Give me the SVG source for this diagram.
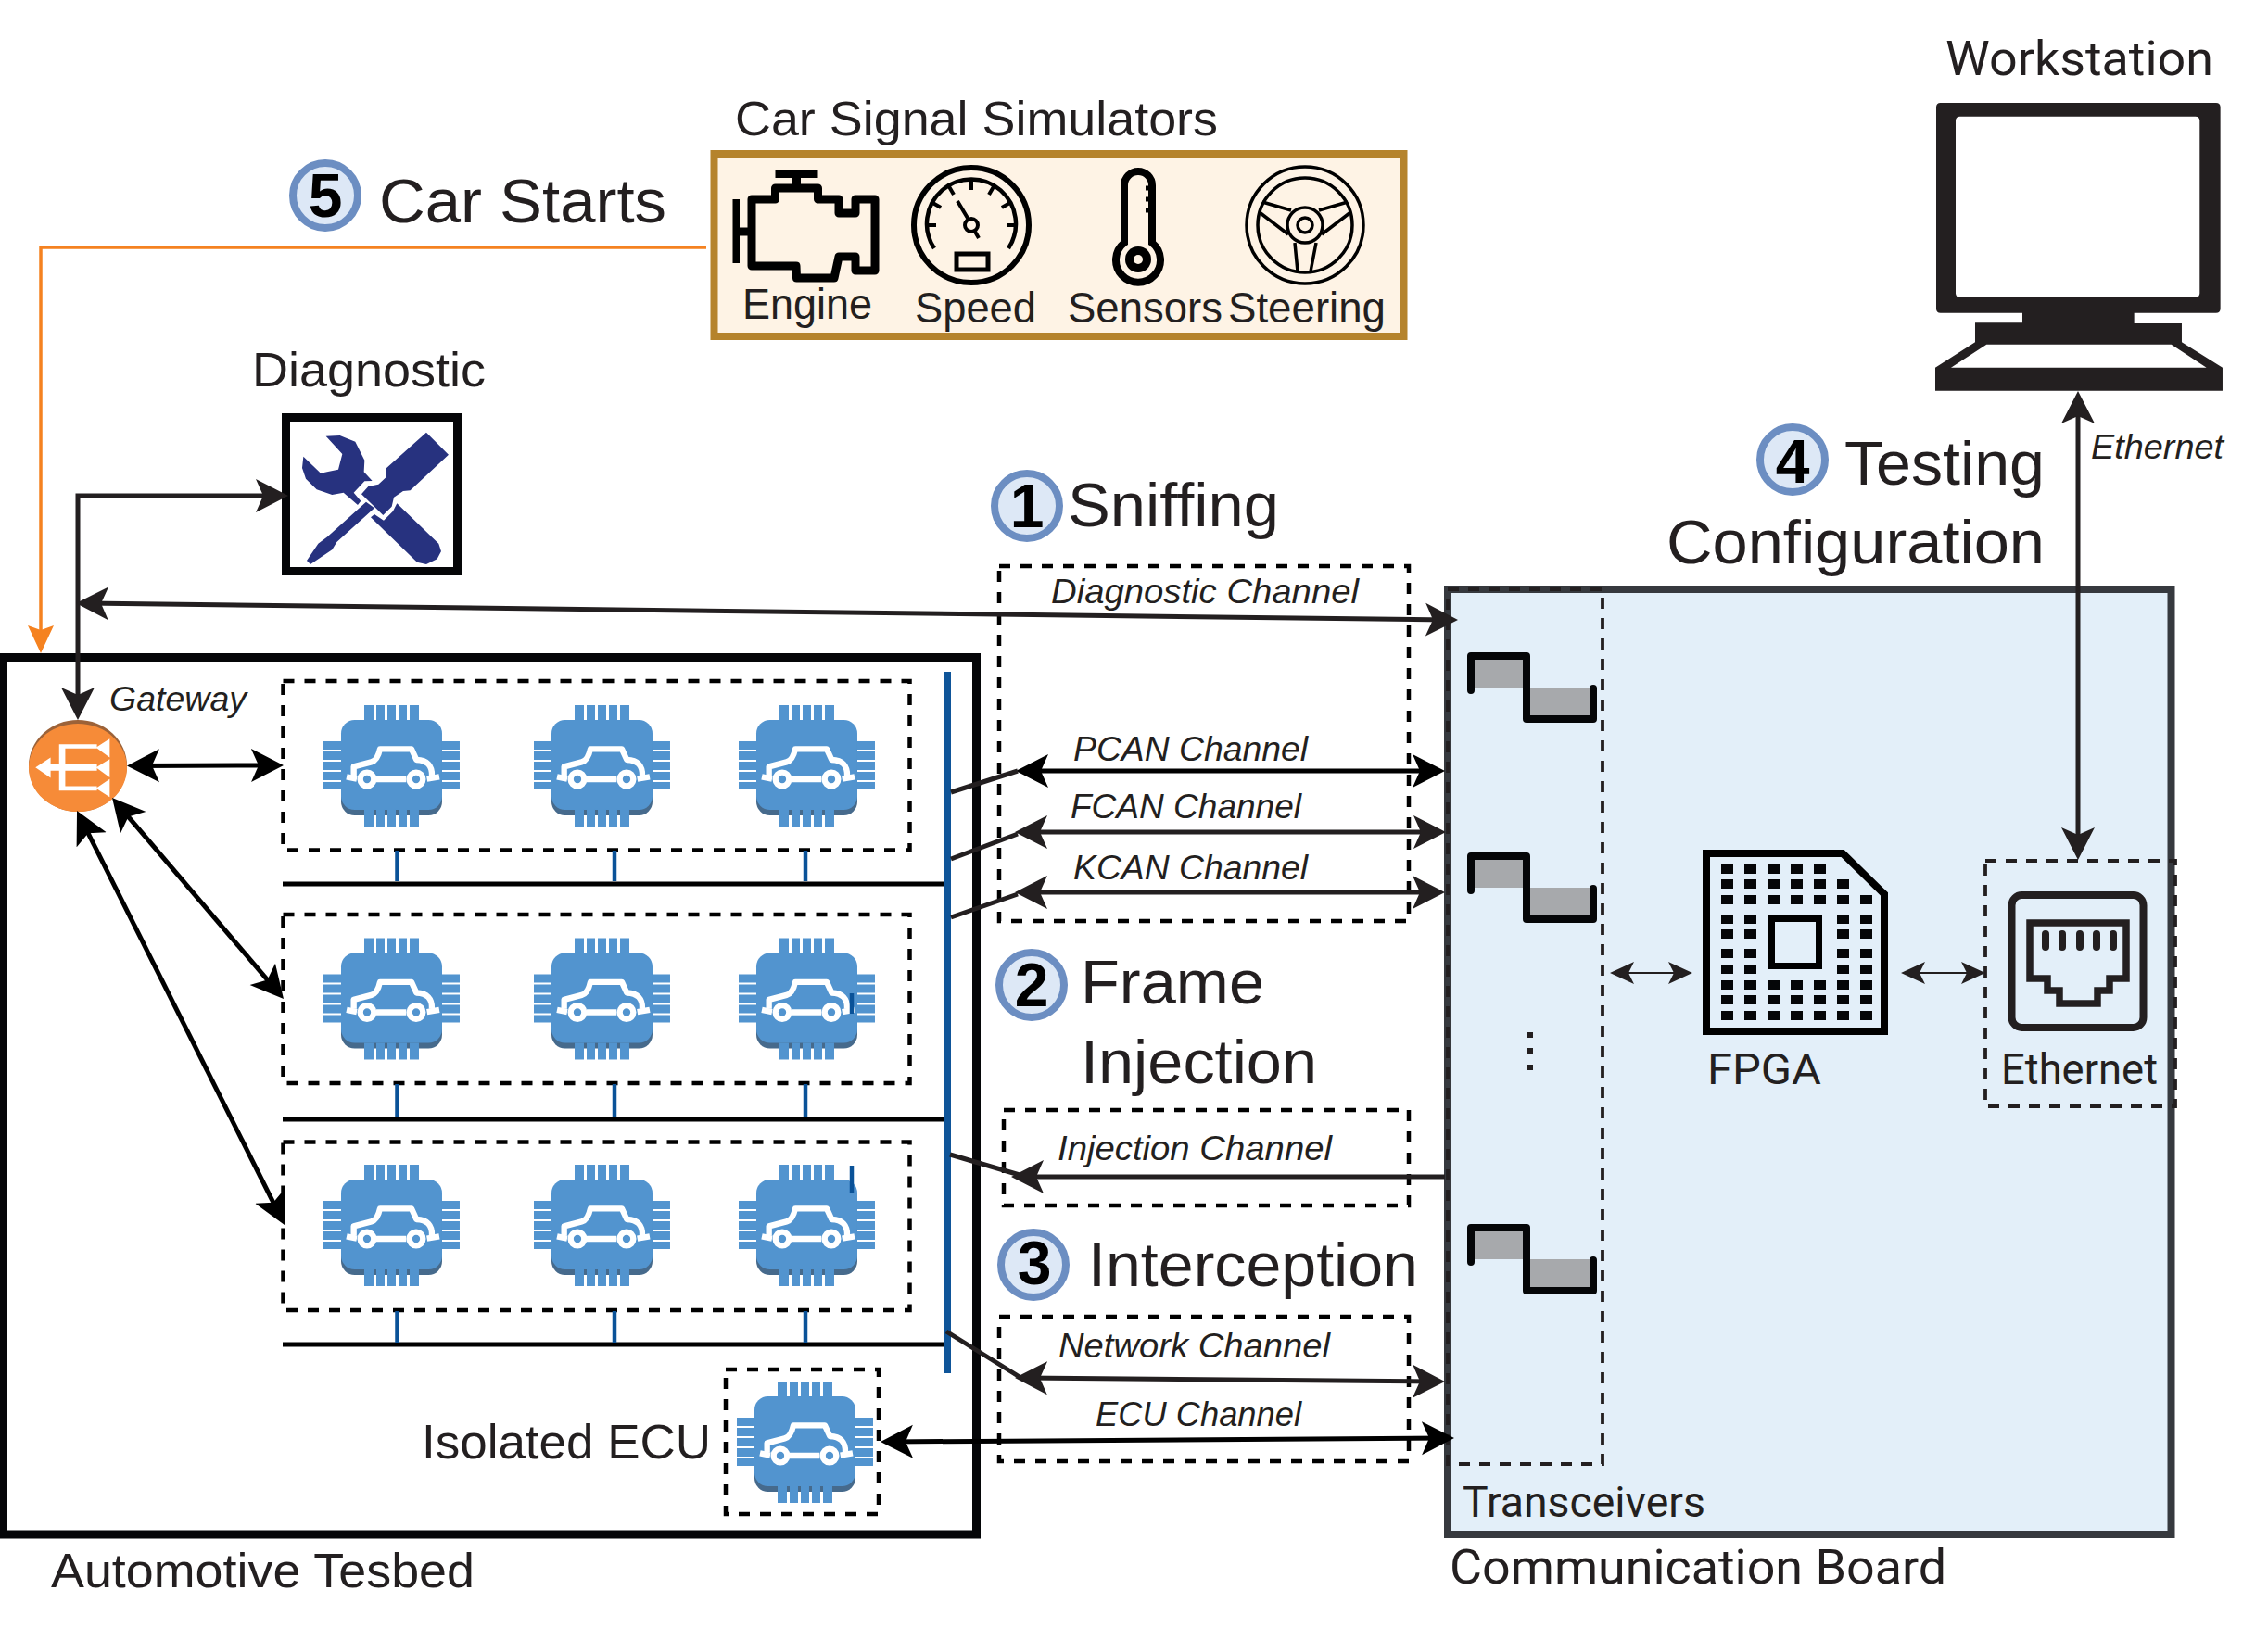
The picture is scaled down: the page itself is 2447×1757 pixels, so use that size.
<svg xmlns="http://www.w3.org/2000/svg" width="2447" height="1757" viewBox="0 0 2447 1757">
<style>
text{font-family:"Liberation Sans",Arial,sans-serif;fill:#231f20}
.r{font-family:Roboto,"Liberation Sans",sans-serif}
.h{font-size:67px}.m{font-size:52px}.s{font-size:46px}
.i{font-size:37px;font-style:italic}
.d{font-size:66px;font-weight:bold;fill:#000;text-anchor:middle}
.dash{fill:none;stroke:#000;stroke-width:4.5;stroke-dasharray:12 11}
.thin{fill:none;stroke:#231f20;stroke-width:3.8;stroke-dasharray:12 10}
.badge{fill:#DDE8F6;stroke:#6C8EC2;stroke-width:8}
.bus{stroke:#000;stroke-width:5}
.stub{stroke:#0A5298;stroke-width:4.5}
.wave{fill:none;stroke:#050608;stroke-width:8;stroke-linejoin:round;stroke-linecap:round}
.ico{fill:none;stroke:#000}
.c{fill:none;stroke:#231f20;stroke-width:5}
.ck{fill:none;stroke:#000;stroke-width:5}
</style>
<defs>
<marker id="ah" markerUnits="userSpaceOnUse" markerWidth="36" markerHeight="38" viewBox="0 0 36 38" refX="25" refY="19" orient="auto-start-reverse"><path d="M35 19L0 1L8 19L0 37Z" fill="#231f20"/></marker>
<marker id="ak" markerUnits="userSpaceOnUse" markerWidth="36" markerHeight="38" viewBox="0 0 36 38" refX="25" refY="19" orient="auto-start-reverse"><path d="M35 19L0 1L8 19L0 37Z" fill="#000"/></marker>
<marker id="at" markerUnits="userSpaceOnUse" markerWidth="27" markerHeight="26" viewBox="0 0 27 26" refX="20" refY="13" orient="auto-start-reverse"><path d="M26 13L0 1L6 13L0 25Z" fill="#231f20"/></marker>
<marker id="ao" markerUnits="userSpaceOnUse" markerWidth="30" markerHeight="30" viewBox="0 0 30 30" refX="22" refY="15" orient="auto"><path d="M30 15L0 1L5 15L0 29Z" fill="#F58220"/></marker>
<g id="chip" transform="scale(.3333) translate(-57 -33)">
<rect x="114" y="110" width="327" height="280" rx="44" fill="#466A8C"/>
<rect x="114" y="81" width="327" height="291" rx="44" fill="#5294CF"/>
<g fill="#5294CF">
<rect x="189" y="33" width="30" height="48"/><rect x="228" y="33" width="27" height="48"/><rect x="264" y="33" width="27" height="48"/><rect x="300" y="33" width="27" height="48"/><rect x="336" y="33" width="30" height="48"/>
<rect x="189" y="372" width="30" height="54"/><rect x="228" y="372" width="27" height="54"/><rect x="264" y="372" width="27" height="54"/><rect x="300" y="372" width="27" height="54"/><rect x="336" y="372" width="30" height="54"/>
<rect x="57" y="150" width="57" height="27"/><rect x="57" y="183" width="57" height="27"/><rect x="57" y="216" width="57" height="27"/><rect x="57" y="249" width="57" height="27"/><rect x="57" y="282" width="57" height="24"/>
<rect x="441" y="150" width="57" height="27"/><rect x="441" y="183" width="57" height="27"/><rect x="441" y="216" width="57" height="27"/><rect x="441" y="249" width="57" height="27"/><rect x="441" y="282" width="57" height="24"/>
</g>
<g fill="none" stroke="#fff" stroke-width="19" stroke-linejoin="round">
<path d="M155 262V232L212 217Q232 212 240 175H342L358 210Q410 212 408 262"/>
<path d="M132 265L165 272M228 273H325M392 272L432 265"/>
<circle cx="198" cy="273" r="22"/><circle cx="357" cy="273" r="22"/>
</g>
</g>
</defs>

<g id="car-signal-simulators">
<text class="m" x="793" y="146" textLength="521" lengthAdjust="spacingAndGlyphs">Car Signal Simulators</text>
<rect x="770.5" y="166" width="744" height="197" fill="#FEF3E5" stroke="#B5832C" stroke-width="8"/>
<g id="engine">
<path class="ico" stroke-width="9" stroke-linejoin="round" d="M811 215H836.5V203H882.5V215H905V230H923V215H944V292H923V277H905L900 300H859.5L859 287H811Z"/>
<path class="ico" stroke-width="9" d="M859.5 192V203M811 250H797"/>
<rect x="836.5" y="184" width="46" height="8" fill="#000"/>
<rect x="790.5" y="215" width="7.5" height="69" fill="#000"/>
<text class="s" x="801" y="344" textLength="140" lengthAdjust="spacingAndGlyphs">Engine</text>
</g>
<g id="speed">
<circle class="ico" cx="1048" cy="243" r="62" stroke-width="6"/>
<path class="ico" stroke-width="4.5" d="M1008 268A48 48 0 1 1 1088 268"/>
<g class="ico" stroke-width="4">
<line x1="1048" y1="195" x2="1048" y2="205" transform="rotate(-90 1048 243)"/>
<line x1="1048" y1="195" x2="1048" y2="205" transform="rotate(-60 1048 243)"/>
<line x1="1048" y1="195" x2="1048" y2="205" transform="rotate(-30 1048 243)"/>
<line x1="1048" y1="195" x2="1048" y2="205"/>
<line x1="1048" y1="195" x2="1048" y2="205" transform="rotate(30 1048 243)"/>
<line x1="1048" y1="195" x2="1048" y2="205" transform="rotate(60 1048 243)"/>
<line x1="1048" y1="195" x2="1048" y2="205" transform="rotate(90 1048 243)"/>
<path d="M1033 217L1045 237M1052 250L1056 257"/>
<circle cx="1048" cy="243" r="7"/>
</g>
<rect class="ico" x="1032" y="274" width="34" height="17" stroke-width="5"/>
<text class="s" x="987" y="348" textLength="131" lengthAdjust="spacingAndGlyphs">Speed</text>
</g>
<g id="sensors">
<path class="ico" stroke-width="8" d="M1213 262V200A15 15 0 0 1 1243 200V262A24 24 0 1 1 1213 262Z"/>
<path class="ico" stroke-width="5" d="M1236 203H1243M1236 215H1243M1236 227H1243"/>
<circle cx="1228" cy="280" r="14" fill="#000"/><circle cx="1228" cy="280" r="5" fill="#FEF3E5"/>
<text class="s" x="1152" y="348" textLength="167" lengthAdjust="spacingAndGlyphs">Sensors</text>
</g>
<g id="steering">
<g class="ico" stroke-width="3.5">
<circle cx="1408" cy="243" r="63"/><circle cx="1408" cy="243" r="51"/><circle cx="1408" cy="243" r="19"/><circle cx="1408" cy="243" r="8"/>
<path d="M1362 218L1393 227M1360 230L1390 253M1454 218L1423 227M1456 230L1426 253M1397 262L1400 293M1420 262L1414 293"/>
</g>
<text class="s" x="1325" y="348" textLength="170" lengthAdjust="spacingAndGlyphs">Steering</text>
</g>
</g>

<g id="step5">
<circle class="badge" cx="351" cy="211" r="35"/><text class="d" x="351" y="234">5</text>
<text class="h" x="409" y="240" textLength="310" lengthAdjust="spacingAndGlyphs">Car Starts</text>
</g>

<g id="diagnostic">
<text class="m" x="272" y="417" textLength="252" lengthAdjust="spacingAndGlyphs">Diagnostic</text>
<rect x="308.5" y="450.5" width="185" height="166" fill="#fff" stroke="#050608" stroke-width="9"/>
<g transform="translate(280 430) scale(.3333)" fill="#27327F">
<path d="M540 110L612 182L488 298L465 300L435 320L428 350L400 378L330 310L352 285L385 278L410 255L408 228Z"/>
<path d="M345 335L372 355L250 465L235 490L165 537L153 525L190 470L220 448Z"/>
<path d="M215 122L260 120L310 140L340 200L338 238L365 267L340 268L305 305L328 332L318 345L272 305L235 312L185 295L150 260L138 225L142 188L198 242L255 230L268 180Z"/>
<path d="M360 385L372 375L402 395L432 365L445 340L580 470L588 495L575 520L540 537L510 530Z"/>
</g>
</g>

<g id="workstation">
<text class="m r" x="2099" y="81" textLength="289" lengthAdjust="spacingAndGlyphs">Workstation</text>
<g transform="translate(2060 90) scale(.3333)" fill="#231f20">
<path fill-rule="evenodd" d="M101 63H993Q1007 63 1007 77V729Q1007 743 993 743H728V777H882V838L1014 920V995H84V920L213 838V775H366V743H101Q87 743 87 729V77Q87 63 101 63ZM164 107Q150 107 150 121V679Q150 693 164 693H926Q940 693 940 679V121Q940 107 926 107ZM250 845L135 920H962L848 845Z"/>
</g>
</g>

<g id="automotive-testbed">
<rect x="3.5" y="709.5" width="1050" height="946.5" fill="#fff" stroke="#050608" stroke-width="9"/>
<text class="m" x="55" y="1713" textLength="457" lengthAdjust="spacingAndGlyphs">Automotive Tesbed</text>
</g>

<g id="gateway">
<ellipse cx="84" cy="826.5" rx="53" ry="49.5" fill="#9C6238"/>
<ellipse cx="84" cy="828.5" rx="53" ry="47.5" fill="#F68B38"/>
<g transform="translate(0 680) scale(.5102 .3571)" fill="#fff">
<path d="M125 345H205V358H138V405H205V425H138V472H205V485H125V425H105V405H125Z"/>
<path d="M232 328V385L203 355ZM232 390V445L203 415ZM232 450V505L203 478ZM107 385V447L75 415Z"/>
</g>
<text class="i" x="118" y="767" textLength="148" lengthAdjust="spacingAndGlyphs">Gateway</text>
</g>

<g id="ecu-group-1">
<rect class="dash" x="305.5" y="735" width="676" height="182.5"/>
<use href="#chip" x="349" y="761"/><use href="#chip" x="576" y="761"/><use href="#chip" x="797" y="761"/>
</g>
<g id="ecu-group-2">
<rect class="dash" x="305.5" y="987" width="676" height="182"/>
<use href="#chip" x="349" y="1012.5"/><use href="#chip" x="576" y="1012.5"/><use href="#chip" x="797" y="1012.5"/>
<line class="stub" x1="919" y1="1072" x2="919" y2="1094"/>
</g>
<g id="ecu-group-3">
<rect class="dash" x="305.5" y="1232.5" width="676" height="181.5"/>
<use href="#chip" x="349" y="1257"/><use href="#chip" x="576" y="1257"/><use href="#chip" x="797" y="1257"/>
<line class="stub" x1="919" y1="1258" x2="919" y2="1288"/>
</g>
<g id="isolated-ecu">
<text class="m" x="455" y="1574" textLength="312" lengthAdjust="spacingAndGlyphs">Isolated ECU</text>
<rect class="dash" x="783" y="1478" width="165" height="156"/>
<use href="#chip" x="795" y="1491"/>
</g>

<g id="can-bus">
<line class="bus" x1="305" y1="954" x2="1020" y2="954"/>
<line class="bus" x1="305" y1="1208" x2="1020" y2="1208"/>
<line class="bus" x1="305" y1="1451" x2="1020" y2="1451"/>
<path class="stub" d="M428.5 918V951M663 918V951M869 918V951M428.5 1170V1206M663 1170V1206M869 1170V1206M428.5 1415V1449M663 1415V1449M869 1415V1449"/>
<line x1="1022" y1="725" x2="1022" y2="1482" stroke="#0F5599" stroke-width="8"/>
</g>

<g id="communication-board">
<rect x="1562" y="636" width="780.5" height="1020" fill="#E3EFF9" stroke="#36393E" stroke-width="8"/>
<text class="m r" x="1564" y="1709" textLength="536" lengthAdjust="spacingAndGlyphs">Communication Board</text>
</g>
<g id="transceivers">
<rect class="thin" x="1562" y="636" width="167" height="944"/>
<text class="s r" x="1578" y="1637" textLength="262" lengthAdjust="spacingAndGlyphs">Transceivers</text>
<g id="wave-1"><path fill="#A7A9AC" d="M1587 712H1647V742H1719V773H1647V742H1587Z"/><path class="wave" d="M1587 745V708H1647V776H1719V743"/></g>
<g id="wave-2"><path fill="#A7A9AC" d="M1587 928H1647V958H1719V989H1647V958H1587Z"/><path class="wave" d="M1587 961V924H1647V992H1719V959"/></g>
<g id="wave-3"><path fill="#A7A9AC" d="M1587 1329H1647V1359H1719V1390H1647V1359H1587Z"/><path class="wave" d="M1587 1362V1325H1647V1393H1719V1360"/></g>
<g fill="#231f20"><rect x="1648" y="1114" width="6" height="6"/><rect x="1648" y="1131" width="6" height="6"/><rect x="1648" y="1149" width="6" height="6"/></g>
</g>
<g id="fpga">
<path class="ico" stroke="#050608" stroke-width="8" d="M1841 921H1988L2033 965V1113H1841Z"/>
<g fill="#050608">
<g id="fpga-top"><rect x="1857" y="933" width="13" height="10"/><rect x="1882" y="933" width="13" height="10"/><rect x="1907" y="933" width="13" height="10"/><rect x="1932" y="933" width="13" height="10"/><rect x="1957" y="933" width="13" height="10"/>
<rect x="1857" y="949" width="13" height="10"/><rect x="1882" y="949" width="13" height="10"/><rect x="1907" y="949" width="13" height="10"/><rect x="1932" y="949" width="13" height="10"/><rect x="1957" y="949" width="13" height="10"/><rect x="1982" y="949" width="13" height="10"/>
<rect x="1857" y="966" width="13" height="10"/><rect x="1882" y="966" width="13" height="10"/><rect x="1907" y="966" width="13" height="10"/><rect x="1932" y="966" width="13" height="10"/><rect x="1957" y="966" width="13" height="10"/><rect x="1982" y="966" width="13" height="10"/><rect x="2007" y="966" width="13" height="10"/></g>
<rect x="1857" y="987" width="13" height="10"/><rect x="1882" y="987" width="13" height="10"/><rect x="1982" y="987" width="13" height="10"/><rect x="2007" y="987" width="13" height="10"/>
<rect x="1857" y="1003" width="13" height="10"/><rect x="1882" y="1003" width="13" height="10"/><rect x="1982" y="1003" width="13" height="10"/><rect x="2007" y="1003" width="13" height="10"/>
<rect x="1857" y="1024" width="13" height="10"/><rect x="1882" y="1024" width="13" height="10"/><rect x="1982" y="1024" width="13" height="10"/><rect x="2007" y="1024" width="13" height="10"/>
<rect x="1857" y="1041" width="13" height="10"/><rect x="1882" y="1041" width="13" height="10"/><rect x="1982" y="1041" width="13" height="10"/><rect x="2007" y="1041" width="13" height="10"/>
<rect x="1857" y="1058" width="13" height="10"/><rect x="1882" y="1058" width="13" height="10"/><rect x="1907" y="1058" width="13" height="10"/><rect x="1932" y="1058" width="13" height="10"/><rect x="1957" y="1058" width="13" height="10"/><rect x="1982" y="1058" width="13" height="10"/><rect x="2007" y="1058" width="13" height="10"/>
<rect x="1857" y="1074" width="13" height="10"/><rect x="1882" y="1074" width="13" height="10"/><rect x="1907" y="1074" width="13" height="10"/><rect x="1932" y="1074" width="13" height="10"/><rect x="1957" y="1074" width="13" height="10"/><rect x="1982" y="1074" width="13" height="10"/><rect x="2007" y="1074" width="13" height="10"/>
<rect x="1857" y="1091" width="13" height="10"/><rect x="1882" y="1091" width="13" height="10"/><rect x="1907" y="1091" width="13" height="10"/><rect x="1932" y="1091" width="13" height="10"/><rect x="1957" y="1091" width="13" height="10"/><rect x="1982" y="1091" width="13" height="10"/><rect x="2007" y="1091" width="13" height="10"/>
</g>
<rect class="ico" stroke="#050608" x="1911.5" y="991.5" width="51" height="51" stroke-width="7"/>
<text class="s r" x="1842" y="1170" textLength="123" lengthAdjust="spacingAndGlyphs">FPGA</text>
</g>
<g id="ethernet-port">
<rect class="thin" x="2142" y="929" width="205" height="265"/>
<rect x="2170.5" y="966" width="142" height="143" rx="11" fill="none" stroke="#231f20" stroke-width="8"/>
<path fill="none" stroke="#231f20" stroke-width="7.5" d="M2190 996H2294V1056H2276V1069H2263V1083H2222V1069H2209V1056H2190Z"/>
<g stroke="#231f20" stroke-width="8" stroke-linecap="round"><path d="M2207 1008V1022M2225 1008V1022M2244 1008V1022M2262 1008V1022M2280 1008V1022"/></g>
<text class="s r" x="2159" y="1170" textLength="169" lengthAdjust="spacingAndGlyphs">Ethernet</text>
</g>

<g id="step1">
<circle class="badge" cx="1108" cy="546" r="35"/><text class="d" x="1108" y="569">1</text>
<text class="h" x="1152" y="568" textLength="228" lengthAdjust="spacingAndGlyphs">Sniffing</text>
<rect class="dash" x="1078" y="611" width="442" height="383"/>
<text class="i" x="1134" y="651" textLength="332" lengthAdjust="spacingAndGlyphs">Diagnostic Channel</text>
<text class="i" x="1158" y="821" textLength="253" lengthAdjust="spacingAndGlyphs">PCAN Channel</text>
<text class="i" x="1155" y="883" textLength="249" lengthAdjust="spacingAndGlyphs">FCAN Channel</text>
<text class="i" x="1158" y="949" textLength="253" lengthAdjust="spacingAndGlyphs">KCAN Channel</text>
</g>
<g id="step2">
<circle class="badge" cx="1113" cy="1063" r="35"/><text class="d" x="1113" y="1086">2</text>
<text class="h" x="1166" y="1083" textLength="198" lengthAdjust="spacingAndGlyphs">Frame</text>
<text class="h" x="1166" y="1169" textLength="255" lengthAdjust="spacingAndGlyphs">Injection</text>
<rect class="dash" x="1083" y="1198" width="437" height="103"/>
<text class="i" x="1141" y="1252" textLength="296" lengthAdjust="spacingAndGlyphs">Injection Channel</text>
</g>
<g id="step3">
<circle class="badge" cx="1115" cy="1365" r="35"/><text class="d" x="1116" y="1386">3</text>
<text class="h" x="1174" y="1388" textLength="356" lengthAdjust="spacingAndGlyphs">Interception</text>
<rect class="dash" x="1078" y="1421" width="442" height="156"/>
<text class="i" x="1142" y="1465" textLength="293" lengthAdjust="spacingAndGlyphs">Network Channel</text>
<text class="i" x="1182" y="1539" textLength="222" lengthAdjust="spacingAndGlyphs">ECU Channel</text>
</g>
<g id="step4">
<circle class="badge" cx="1934" cy="496" r="35"/><text class="d" x="1934" y="521">4</text>
<text class="h" x="1990" y="523" textLength="216" lengthAdjust="spacingAndGlyphs">Testing</text>
<text class="h" x="1798" y="608" textLength="408" lengthAdjust="spacingAndGlyphs">Configuration</text>
<text class="i" x="2256" y="495" textLength="143" lengthAdjust="spacingAndGlyphs">Ethernet</text>
</g>

<g id="connectors">
<path d="M762 267H44V697" fill="none" stroke="#F58220" stroke-width="3.5" marker-end="url(#ao)"/>
<path class="c" d="M84 767V535H301" marker-start="url(#ah)" marker-end="url(#ah)"/>
<line class="c" x1="92" y1="651" x2="1563" y2="669" marker-start="url(#ah)" marker-end="url(#ah)"/>
<line class="ck" x1="147" y1="826.4" x2="296" y2="826" marker-start="url(#ak)" marker-end="url(#ak)"/>
<line class="ck" x1="127.5" y1="868.6" x2="299.5" y2="1070.4" marker-start="url(#ak)" marker-end="url(#ak)"/>
<line class="ck" x1="87.5" y1="884" x2="302.5" y2="1313" marker-start="url(#ak)" marker-end="url(#ak)"/>
<line class="ck" x1="1106" y1="832" x2="1549" y2="832" marker-start="url(#ak)" marker-end="url(#ak)"/>
<line class="c" x1="1105" y1="898" x2="1550" y2="898" marker-start="url(#ah)" marker-end="url(#ah)"/>
<line class="c" x1="1105" y1="963" x2="1549" y2="963" marker-start="url(#ah)" marker-end="url(#ah)"/>
<line class="c" x1="1026" y1="855" x2="1098" y2="832"/>
<line class="c" x1="1026" y1="927" x2="1098" y2="900"/>
<line class="c" x1="1026" y1="990" x2="1098" y2="965"/>
<line class="c" x1="1559" y1="1270" x2="1101" y2="1270" marker-end="url(#ah)"/>
<line class="c" x1="1025" y1="1246" x2="1100" y2="1268"/>
<line class="c" x1="1105" y1="1487" x2="1549" y2="1491" marker-start="url(#ah)" marker-end="url(#ah)"/>
<line class="c" x1="1021" y1="1437" x2="1100" y2="1486"/>
<line class="ck" x1="960" y1="1556" x2="1559" y2="1552" marker-start="url(#ak)" marker-end="url(#ak)"/>
<line class="c" x1="2242" y1="432" x2="2242" y2="918" marker-start="url(#ah)" marker-end="url(#ah)"/>
<line x1="1743" y1="1050" x2="1820" y2="1050" stroke="#231f20" stroke-width="2" marker-start="url(#at)" marker-end="url(#at)"/>
<line x1="2057" y1="1050" x2="2136" y2="1050" stroke="#231f20" stroke-width="2" marker-start="url(#at)" marker-end="url(#at)"/>
</g>
</svg>
